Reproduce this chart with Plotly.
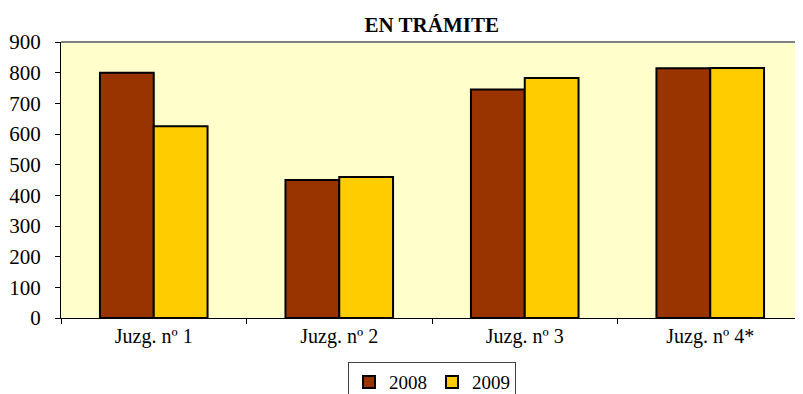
import plotly.graph_objects as go

categories = ["Juzg. nº 1", "Juzg. nº 2", "Juzg. nº 3", "Juzg. nº 4*"]
values_2008 = [800, 450, 745, 814]
values_2009 = [625, 460, 783, 815]
series_names = ["2008", "2009"]
colors = ["#993300", "#FFCC00"]

fig = go.Figure()
for name, vals, col in zip(series_names, [values_2008, values_2009], colors):
    fig.add_trace(go.Bar(
        x=categories, y=vals, name=name,
        marker=dict(color=col, line=dict(color="black", width=2)),
    ))

font_family = "Liberation Serif, Times New Roman, serif"
fig.update_layout(
    width=795, height=386,
    margin=dict(l=53, r=0, t=34, b=76, autoexpand=False),
    paper_bgcolor="white",
    plot_bgcolor="#FFFFCC",
    barmode="group",
    bargap=0.42,
    bargroupgap=0,
    font=dict(family=font_family, size=21, color="black"),
    title=dict(text="<b>EN TRÁMITE</b>", x=0.533, xanchor="center", y=0.956, yanchor="middle",
               font=dict(family=font_family, size=21, color="black")),
    showlegend=True,
    legend=dict(orientation="h", x=0.5, xanchor="center", y=-0.16, yanchor="top",
                bgcolor="white", bordercolor="#404040", borderwidth=1,
                font=dict(family=font_family, size=19, color="black"),
                itemwidth=30, traceorder="normal"),
)
fig.update_xaxes(
    showline=True, linecolor="black", linewidth=1,
    ticks="outside", ticklen=5, tickcolor="black", tickson="boundaries",
    showgrid=False, mirror=False,
    tickfont=dict(family=font_family, size=20),
)
fig.update_yaxes(
    range=[0, 900], dtick=100,
    showline=True, linecolor="black", linewidth=1,
    ticks="outside", ticklen=5, tickcolor="black",
    ticklabelstandoff=10,
    showgrid=False, zeroline=False,
    tickfont=dict(family=font_family, size=21),
)
fig.add_shape(type="line", xref="paper", yref="paper", x0=0, x1=1, y0=1, y1=1,
              line=dict(color="#808080", width=2))

fig.write_html("out.html")
